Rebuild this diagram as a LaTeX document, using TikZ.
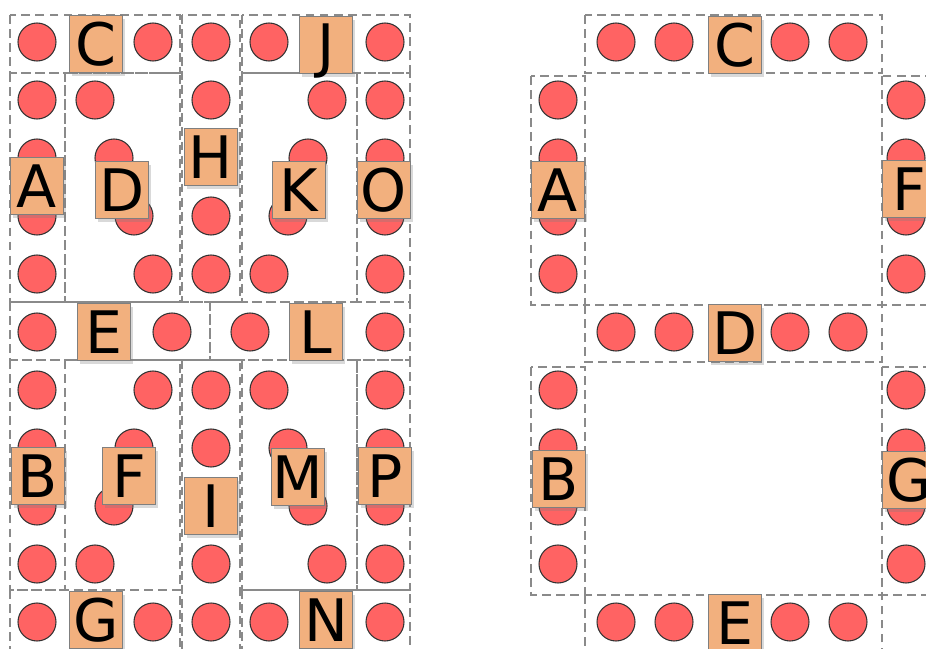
\documentclass[tikz,border=0pt]{standalone}
\usepackage{fontspec}
\setmainfont{DejaVu Sans}
\usetikzlibrary{shadows}
\definecolor{led}{HTML}{FF6363}
\definecolor{rim}{HTML}{333333}
\definecolor{tagfill}{HTML}{F2B07E}
\definecolor{tagline}{HTML}{7F7F7F}
\definecolor{segline}{HTML}{8A8A8A}
\tikzset{seg/.style={draw=segline,line width=1.1pt,dash pattern=on 7.5pt off 4.5pt}, lamp/.style={fill=led,draw=rim,line width=.9pt},tag/.style={draw=tagline,fill=tagfill,line width=1pt,inner sep=0pt,minimum width=16mm,minimum height=17mm,font=\fontsize{50}{50}\selectfont,text height=37pt,text depth=0pt,drop shadow={shadow xshift=2pt,shadow yshift=-3pt,opacity=.3}}}
\begin{document}
\begin{tikzpicture}[x=.3mm,y=-.3mm]
\useasboundingbox (0,0) rectangle (926,649);\clip (0,0) rectangle (926,649);
% sixteen segments
\draw[seg](10,15) rectangle (180,73);\draw[seg](182,15) rectangle (240,302);\draw[seg](242,15) rectangle (410,73);
\draw[seg](10,73) rectangle (65,302);\draw[seg](65,73) rectangle (180,302);\draw[seg](242,73) rectangle (357,302);\draw[seg](357,73) rectangle (410,302);
\draw[seg](10,302) rectangle (210,360);\draw[seg](210,302) rectangle (410,360);
\draw[seg](10,360) rectangle (65,590);\draw[seg](65,360) rectangle (180,590);\draw[seg](182,360) rectangle (240,660);\draw[seg](242,360) rectangle (357,590);\draw[seg](357,360) rectangle (410,590);
\draw[seg](10,590) rectangle (180,660);\draw[seg](242,590) rectangle (410,660);
\foreach \x in {37,153,211,269,385}\draw[lamp](\x,42) circle (5.7mm);
\foreach \y in {100,158,216,274,332,390,448,506,564,622}{\draw[lamp](37,\y) circle (5.7mm);\draw[lamp](385,\y) circle (5.7mm);}
\foreach \y in {100,216,274,390,448,564,622}\draw[lamp](211,\y) circle (5.7mm);
\foreach \x/\y in {95/100,114/158,134/216,153/274,327/100,308/158,288/216,269/274,172/332,250/332,153/390,134/448,114/506,95/564,269/390,288/448,308/506,327/564,153/622,269/622}\draw[lamp](\x,\y) circle (5.7mm);
\node[tag](lC) at (96,44){C};\node[tag](lJ) at (326,45){J};\node[tag](lH) at (211,157){H};
\node[tag](lA) at (37,186){A};\node[tag](lD) at (122,190){D};\node[tag](lK) at (299,190){K};\node[tag](lO) at (384,190){O};
\node[tag](lE) at (104,332){E};\node[tag](lL) at (316,332){L};
\node[tag](lB) at (38,476){B};\node[tag](lF) at (129,476){F};\node[tag](lI) at (211,506){I};\node[tag](lM) at (298,477){M};\node[tag](lP) at (385,476){P};
\node[tag](lG) at (96,620){G};\node[tag](lN) at (326,620){N};
% seven segments
\draw[seg](585,15) rectangle (882,73);\draw[seg](531,76) rectangle (585,305);\draw[seg](882,76) rectangle (960,305);
\draw[seg](585,305) rectangle (882,362);\draw[seg](531,367) rectangle (585,595);\draw[seg](882,367) rectangle (960,595);\draw[seg](585,595) rectangle (882,660);
\foreach \x in {616,674,790,848}{\draw[lamp](\x,42) circle (5.7mm);\draw[lamp](\x,332) circle (5.7mm);\draw[lamp](\x,622) circle (5.7mm);}
\foreach \y in {100,158,216,274,390,448,506,564}{\draw[lamp](558,\y) circle (5.7mm);\draw[lamp](906,\y) circle (5.7mm);}
\node[tag](rC) at (735,45){C};\node[tag](rA) at (558,190){A};\node[tag](rF) at (909,189){F};\node[tag](rD) at (735,333){D};
\node[tag](rB) at (559,479){B};\node[tag](rG) at (909,480){G};\node[tag](rE) at (735,623){E};
\end{tikzpicture}
\end{document}
